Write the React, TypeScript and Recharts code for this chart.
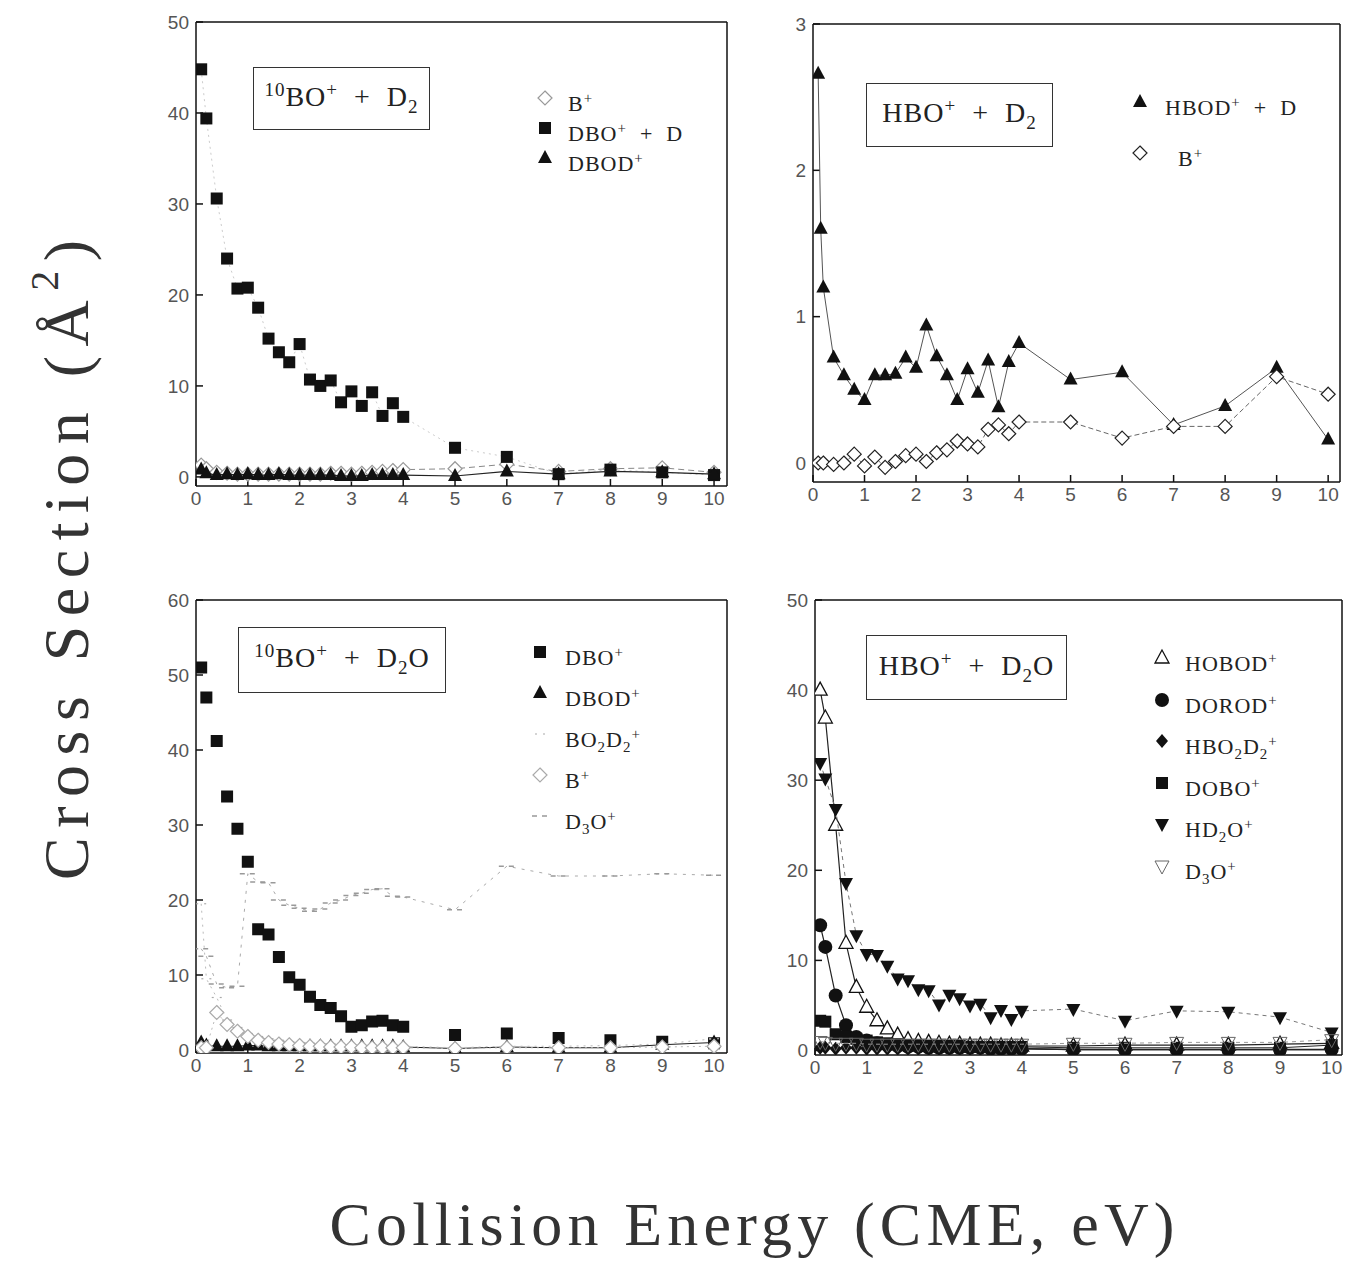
import React from 'react';
import { ScatterChart, Scatter, XAxis, YAxis } from 'recharts';

// collision energies (eV) at which cross sections were measured
const energies = [0.1, 0.2, 0.4, 0.6, 0.8, 1.0, 1.2, 1.4, 1.6, 1.8, 2.0, 2.2, 2.4, 2.6, 2.8, 3.0, 3.2, 3.4, 3.6, 3.8, 4.0, 5, 6, 7, 8, 9, 10];
const energiesHbod = [0.1, 0.15, 0.2, 0.4, 0.6, 0.8, 1.0, 1.2, 1.4, 1.6, 1.8, 2.0, 2.2, 2.4, 2.6, 2.8, 3.0, 3.2, 3.4, 3.6, 3.8, 4.0, 5, 6, 7, 8, 9, 10];
const xTicks = [0, 1, 2, 3, 4, 5, 6, 7, 8, 9, 10];

// 10BO+ + D2
const bo_d2_Bplus = [1.3, 0.9, 0.5, 0.4, 0.3, 0.3, 0.3, 0.3, 0.3, 0.3, 0.3, 0.3, 0.3, 0.4, 0.4, 0.3, 0.4, 0.5, 0.6, 0.7, 0.8, 0.9, 1.4, 0.6, 0.9, 1.0, 0.5];
const bo_d2_DBO = [44.8, 39.4, 30.6, 24.0, 20.7, 20.8, 18.6, 15.2, 13.7, 12.6, 14.6, 10.7, 10.0, 10.6, 8.2, 9.4, 7.8, 9.3, 6.7, 8.1, 6.6, 3.2, 2.2, 0.3, 0.8, 0.5, 0.2];
const bo_d2_DBOD = [0.8, 0.4, 0.2, 0.3, 0.2, 0.3, 0.2, 0.2, 0.3, 0.2, 0.2, 0.2, 0.2, 0.2, 0.1, 0.1, 0.1, 0.2, 0.2, 0.2, 0.2, 0.1, 0.6, 0.3, 0.6, 0.5, 0.3];

// HBO+ + D2
const hbo_d2_HBOD = [2.66, 1.6, 1.2, 0.72, 0.6, 0.5, 0.43, 0.6, 0.6, 0.61, 0.72, 0.65, 0.94, 0.73, 0.6, 0.43, 0.64, 0.48, 0.7, 0.38, 0.69, 0.82, 0.57, 0.62, 0.26, 0.39, 0.65, 0.16];
const hbo_d2_Bplus = [0.0, 0.0, -0.01, 0.0, 0.06, -0.02, 0.04, -0.03, 0.01, 0.05, 0.06, 0.01, 0.07, 0.09, 0.15, 0.13, 0.11, 0.23, 0.26, 0.2, 0.28, 0.28, 0.17, 0.25, 0.25, 0.59, 0.47];

// 10BO+ + D2O
const bo_d2o_DBO = [51.0, 47.0, 41.2, 33.8, 29.5, 25.1, 16.1, 15.4, 12.4, 9.7, 8.7, 7.1, 6.0, 5.6, 4.5, 3.1, 3.3, 3.8, 3.9, 3.3, 3.1, 2.0, 2.2, 1.6, 1.3, 1.1, 0.9];
const bo_d2o_DBOD = [1.0, 0.6, 0.5, 0.5, 0.5, 0.6, 0.6, 0.5, 0.5, 0.5, 0.5, 0.5, 0.5, 0.5, 0.5, 0.5, 0.5, 0.5, 0.5, 0.5, 0.4, 0.2, 0.4, 0.3, 0.3, 0.7, 1.0];
const bo_d2o_BO2D2 = [19.5, 9.5, 7.0, 4.0, 3.0, 2.2, 1.8, 1.5, 1.3, 1.1, 1.0, 0.9, 0.8, 0.8, 0.7, 0.7, 0.6, 0.6, 0.6, 0.6, 0.5, 0.3, 0.5, 0.5, 0.6, 0.8, 1.5];
const bo_d2o_Bplus = [0.3, 0.3, 5.0, 3.4, 2.5, 1.8, 1.3, 1.0, 0.8, 0.7, 0.6, 0.5, 0.5, 0.4, 0.4, 0.4, 0.3, 0.3, 0.3, 0.3, 0.3, 0.2, 0.3, 0.3, 0.3, 0.4, 0.5];
const bo_d2o_D3O = [13.5, 12.5, 8.8, 8.3, 8.5, 23.5, 22.4, 22.3, 20.0, 19.3, 18.9, 18.5, 18.8, 19.6, 20.0, 20.6, 20.9, 21.4, 21.5, 20.5, 20.4, 18.7, 24.5, 23.2, 23.2, 23.5, 23.3];

// HBO+ + D2O
const hbo_d2o_HOBOD = [40.0, 36.9, 25.0, 11.9, 7.0, 4.8, 3.3, 2.4, 1.7, 1.2, 1.0, 0.9, 0.8, 0.7, 0.7, 0.6, 0.6, 0.6, 0.5, 0.5, 0.5, 0.5, 0.6, 0.6, 0.6, 0.7, 0.8];
const hbo_d2o_DOROD = [13.9, 11.5, 6.1, 2.8, 1.5, 1.1, 0.8, 0.6, 0.5, 0.4, 0.4, 0.3, 0.3, 0.3, 0.3, 0.3, 0.3, 0.2, 0.2, 0.2, 0.2, 0.1, 0.1, 0.1, 0.1, 0.1, 0.1];
const hbo_d2o_HBO2D2 = [0.3, 0.3, 0.2, 0.3, 0.3, 0.2, 0.2, 0.2, 0.2, 0.2, 0.2, 0.2, 0.2, 0.2, 0.2, 0.2, 0.2, 0.2, 0.2, 0.2, 0.2, 0.1, 0.1, 0.1, 0.1, 0.1, 0.1];
const hbo_d2o_DOBO = [3.3, 3.2, 1.8, 1.5, 1.3, 1.1, 0.9, 0.8, 0.7, 0.6, 0.6, 0.5, 0.5, 0.5, 0.5, 0.4, 0.4, 0.4, 0.4, 0.4, 0.4, 0.3, 0.3, 0.3, 0.3, 0.3, 0.6];
const hbo_d2o_HD2O = [31.9, 30.2, 26.8, 18.6, 12.8, 10.7, 10.6, 9.4, 8.0, 7.8, 6.8, 6.7, 5.1, 6.2, 5.8, 5.0, 5.2, 3.7, 4.5, 3.5, 4.4, 4.6, 3.3, 4.4, 4.3, 3.7, 2.0];
const hbo_d2o_D3O = [1.0, 0.9, 0.8, 0.8, 0.8, 0.7, 0.7, 0.7, 0.7, 0.7, 0.7, 0.7, 0.7, 0.7, 0.7, 0.7, 0.7, 0.7, 0.7, 0.7, 0.7, 0.8, 0.8, 0.9, 0.9, 0.9, 1.2];

const SERIF = '"Liberation Serif", "DejaVu Serif", serif';
const SANS = '"Liberation Sans", "DejaVu Sans", sans-serif';

type Kind = 'square' | 'triUp' | 'triUpOpen' | 'triDown' | 'triDownOpen' | 'diamond' | 'diamondOpen' | 'circle' | 'dot' | 'dash';

function Marker({ kind, cx, cy, color = '#111' }: { kind: Kind; cx: number; cy: number; color?: string }) {
  switch (kind) {
    case 'square':
      return <rect x={cx - 6} y={cy - 6} width={12} height={12} fill={color} />;
    case 'triUp':
      return <polygon points={`${cx},${cy - 8} ${cx - 7},${cy + 5} ${cx + 7},${cy + 5}`} fill={color} />;
    case 'triUpOpen':
      return <polygon points={`${cx},${cy - 8} ${cx - 7},${cy + 5} ${cx + 7},${cy + 5}`} fill="#fff" stroke={color} strokeWidth={1.3} />;
    case 'triDown':
      return <polygon points={`${cx},${cy + 8} ${cx - 7},${cy - 5} ${cx + 7},${cy - 5}`} fill={color} />;
    case 'triDownOpen':
      return <polygon points={`${cx},${cy + 8} ${cx - 7},${cy - 5} ${cx + 7},${cy - 5}`} fill="none" stroke={color} strokeWidth={1} />;
    case 'diamond':
      return <polygon points={`${cx},${cy - 7} ${cx + 6},${cy} ${cx},${cy + 7} ${cx - 6},${cy}`} fill={color} />;
    case 'diamondOpen':
      return <polygon points={`${cx},${cy - 7} ${cx + 7},${cy} ${cx},${cy + 7} ${cx - 7},${cy}`} fill="#fff" stroke={color} strokeWidth={1.2} />;
    case 'circle':
      return <circle cx={cx} cy={cy} r={7} fill={color} />;
    case 'dot':
      return (
        <g stroke={color} strokeWidth={1.2}>
          <line x1={cx - 5} y1={cy} x2={cx - 3} y2={cy} />
          <line x1={cx + 3} y1={cy} x2={cx + 5} y2={cy} />
        </g>
      );
    case 'dash':
      return (
        <g stroke={color} strokeWidth={1.5}>
          <line x1={cx - 8} y1={cy} x2={cx - 3} y2={cy} />
          <line x1={cx + 2} y1={cy} x2={cx + 7} y2={cy} />
        </g>
      );
  }
  return null;
}

interface Series {
  label: React.ReactNode;
  x: number[];
  y: number[];
  kind: Kind;
  color: string;
  line?: { stroke: string; dash?: string; width?: number };
}

interface PanelSpec {
  left: number;
  top: number;
  right: number;
  bottom: number;
  xDomain: [number, number];
  yDomain: [number, number];
  yTicks: number[];
  title: React.ReactNode;
  box: { left: number; top: number; width: number; height: number };
  legend: { x: number; y: number; dy: number; textX: number };
  series: Series[];
}

const sup = (s: string) => <sup style={{ fontSize: '0.68em', verticalAlign: '0.55em' }}>{s}</sup>;
const sub = (s: string) => <sub style={{ fontSize: '0.68em', verticalAlign: '-0.35em' }}>{s}</sub>;

const panels: PanelSpec[] = [
  {
    left: 196, top: 22, right: 727, bottom: 486,
    xDomain: [0, 10.25], yDomain: [-1, 50], yTicks: [0, 10, 20, 30, 40, 50],
    title: <>{sup('10')}BO{sup('+')}&nbsp;&nbsp;+&nbsp;&nbsp;D{sub('2')}</>,
    box: { left: 253, top: 67, width: 177, height: 63 },
    legend: { x: 545, y: 98, dy: 30, textX: 568 },
    series: [
      { label: <>B{sup('+')}</>, x: energies, y: bo_d2_Bplus, kind: 'diamondOpen', color: '#999', line: { stroke: '#888', dash: '6 4' } },
      { label: <>DBO{sup('+')}&nbsp;&nbsp;+&nbsp;&nbsp;D</>, x: energies, y: bo_d2_DBO, kind: 'square', color: '#111', line: { stroke: '#ccc', dash: '2 4' } },
      { label: <>DBOD{sup('+')}</>, x: energies, y: bo_d2_DBOD, kind: 'triUp', color: '#111', line: { stroke: '#222', width: 1.2 } },
    ],
  },
  {
    left: 813, top: 24, right: 1340, bottom: 482,
    xDomain: [0, 10.23], yDomain: [-0.13, 3], yTicks: [0, 1, 2, 3],
    title: <>HBO{sup('+')}&nbsp;&nbsp;+&nbsp;&nbsp;D{sub('2')}</>,
    box: { left: 866, top: 83, width: 187, height: 64 },
    legend: { x: 1140, y: 102, dy: 51, textX: 1165 },
    series: [
      { label: <>HBOD{sup('+')}&nbsp;&nbsp;+&nbsp;&nbsp;D</>, x: energiesHbod, y: hbo_d2_HBOD, kind: 'triUp', color: '#111', line: { stroke: '#555', width: 1 } },
      { label: <>&nbsp;&nbsp;B{sup('+')}</>, x: energies, y: hbo_d2_Bplus, kind: 'diamondOpen', color: '#222', line: { stroke: '#666', dash: '5 3' } },
    ],
  },
  {
    left: 196, top: 600, right: 727, bottom: 1053,
    xDomain: [0, 10.25], yDomain: [-0.4, 60], yTicks: [0, 10, 20, 30, 40, 50, 60],
    title: <>{sup('10')}BO{sup('+')}&nbsp;&nbsp;+&nbsp;&nbsp;D{sub('2')}O</>,
    box: { left: 238, top: 627, width: 208, height: 66 },
    legend: { x: 540, y: 652, dy: 41, textX: 565 },
    series: [
      { label: <>DBO{sup('+')}</>, x: energies, y: bo_d2o_DBO, kind: 'square', color: '#111' },
      { label: <>DBOD{sup('+')}</>, x: energies, y: bo_d2o_DBOD, kind: 'triUp', color: '#111', line: { stroke: '#222', width: 1.2 } },
      { label: <>BO{sub('2')}D{sub('2')}{sup('+')}</>, x: energies, y: bo_d2o_BO2D2, kind: 'dot', color: '#aaa', line: { stroke: '#bbb', dash: '2 5' } },
      { label: <>B{sup('+')}</>, x: energies, y: bo_d2o_Bplus, kind: 'diamondOpen', color: '#aaa', line: { stroke: '#bbb', dash: '2 4' } },
      { label: <>D{sub('3')}O{sup('+')}</>, x: energies, y: bo_d2o_D3O, kind: 'dash', color: '#999', line: { stroke: '#aaa', dash: '3 6' } },
    ],
  },
  {
    left: 815, top: 600, right: 1342, bottom: 1055,
    xDomain: [0, 10.2], yDomain: [-0.5, 50], yTicks: [0, 10, 20, 30, 40, 50],
    title: <>HBO{sup('+')}&nbsp;&nbsp;+&nbsp;&nbsp;D{sub('2')}O</>,
    box: { left: 866, top: 635, width: 201, height: 65 },
    legend: { x: 1162, y: 658, dy: 41.5, textX: 1185 },
    series: [
      { label: <>HOBOD{sup('+')}</>, x: energies, y: hbo_d2o_HOBOD, kind: 'triUpOpen', color: '#111', line: { stroke: '#222', width: 1.2 } },
      { label: <>DOROD{sup('+')}</>, x: energies, y: hbo_d2o_DOROD, kind: 'circle', color: '#111', line: { stroke: '#222', width: 1.2 } },
      { label: <>HBO{sub('2')}D{sub('2')}{sup('+')}</>, x: energies, y: hbo_d2o_HBO2D2, kind: 'diamond', color: '#111', line: { stroke: '#222', width: 1.5 } },
      { label: <>DOBO{sup('+')}</>, x: energies, y: hbo_d2o_DOBO, kind: 'square', color: '#111', line: { stroke: '#222', width: 1 } },
      { label: <>HD{sub('2')}O{sup('+')}</>, x: energies, y: hbo_d2o_HD2O, kind: 'triDown', color: '#111', line: { stroke: '#777', dash: '4 4' } },
      { label: <>D{sub('3')}O{sup('+')}</>, x: energies, y: hbo_d2o_D3O, kind: 'triDownOpen', color: '#666', line: { stroke: '#999', dash: '4 4' } },
    ],
  },
];

const Y_W = 50;
const X_H = 30;
const M = 10;

function Panel({ p }: { p: PanelSpec }) {
  const width = p.right - p.left + Y_W + M;
  const height = p.bottom - p.top + X_H + M;
  const tickStyle = { fontSize: 19, fill: '#555', fontFamily: SANS };
  return (
    <>
      <div style={{ position: 'absolute', left: p.left - Y_W, top: p.top - M }}>
        <ScatterChart width={width} height={height} margin={{ top: M, right: M, bottom: 0, left: 0 }}>
          <XAxis xAxisId="b" type="number" dataKey="x" domain={p.xDomain} ticks={xTicks} allowDataOverflow
            height={X_H} tickSize={-7} tickMargin={13} stroke="#111" strokeWidth={1.5} tick={tickStyle} interval={0} />
          <XAxis xAxisId="t" type="number" domain={p.xDomain} ticks={xTicks} allowDataOverflow orientation="top" mirror
            tick={false} tickSize={7} stroke="#111" strokeWidth={1.5} interval={0} />
          <YAxis yAxisId="l" type="number" dataKey="y" domain={p.yDomain} ticks={p.yTicks} allowDataOverflow
            width={Y_W} tickSize={-7} tickMargin={14} stroke="#111" strokeWidth={1.5} tick={tickStyle} interval={0} />
          <YAxis yAxisId="r" type="number" domain={p.yDomain} ticks={p.yTicks} allowDataOverflow orientation="right" mirror
            tick={false} tickSize={7} stroke="#111" strokeWidth={1.5} interval={0} />
          {p.series.map((s, i) => (
            <Scatter
              key={i}
              xAxisId="b"
              yAxisId="l"
              data={s.x.map((x, j) => ({ x, y: s.y[j] }))}
              line={s.line ? { stroke: s.line.stroke, strokeDasharray: s.line.dash, strokeWidth: s.line.width ?? 1 } : false}
              lineJointType="linear"
              shape={(props: any) => <Marker kind={s.kind} cx={props.cx} cy={props.cy} color={s.color} />}
              isAnimationActive={false}
            />
          ))}
        </ScatterChart>
      </div>
      <div style={{
        position: 'absolute', left: p.box.left, top: p.box.top, width: p.box.width, height: p.box.height,
        border: '1.5px solid #333', boxSizing: 'border-box', display: 'flex', alignItems: 'center', justifyContent: 'center',
        fontFamily: SERIF, fontSize: 28, letterSpacing: 1, color: '#222', background: '#fff', whiteSpace: 'nowrap',
      }}>
        <span>{p.title}</span>
      </div>
      {p.series.map((s, i) => {
        const cy = p.legend.y + i * p.legend.dy;
        return (
          <React.Fragment key={'lg' + i}>
            <svg style={{ position: 'absolute', left: p.legend.x - 12, top: cy - 12 }} width={24} height={24}>
              <Marker kind={s.kind} cx={12} cy={12} color={s.color} />
            </svg>
            <div style={{
              position: 'absolute', left: p.legend.textX, top: cy - 15, fontFamily: SERIF, fontSize: 22,
              letterSpacing: 1, color: '#222', whiteSpace: 'nowrap', lineHeight: '30px',
            }}>
              {s.label}
            </div>
          </React.Fragment>
        );
      })}
    </>
  );
}

export default function App() {
  return (
    <div style={{ position: 'absolute', left: 0, top: 0, width: 1351, height: 1261, background: '#fff', overflow: 'hidden' }}>
      {panels.map((p, i) => <Panel key={i} p={p} />)}
      <svg style={{ position: 'absolute', left: 0, top: 0 }} width={1351} height={1261} pointerEvents="none">
        <text x={0} y={0} transform="translate(88 560) rotate(-90)" textAnchor="middle" fontFamily={SERIF}
          fontSize={64} fill="#333" textLength={640} lengthAdjust="spacing">
          Cross Section (Å<tspan dy={-30} fontSize={40}>2</tspan><tspan dy={30}>)</tspan>
        </text>
        <text x={752} y={1245} textAnchor="middle" fontFamily={SERIF} fontSize={62} fill="#333"
          textLength={845} lengthAdjust="spacing">
          Collision Energy (CME, eV)
        </text>
      </svg>
    </div>
  );
}
